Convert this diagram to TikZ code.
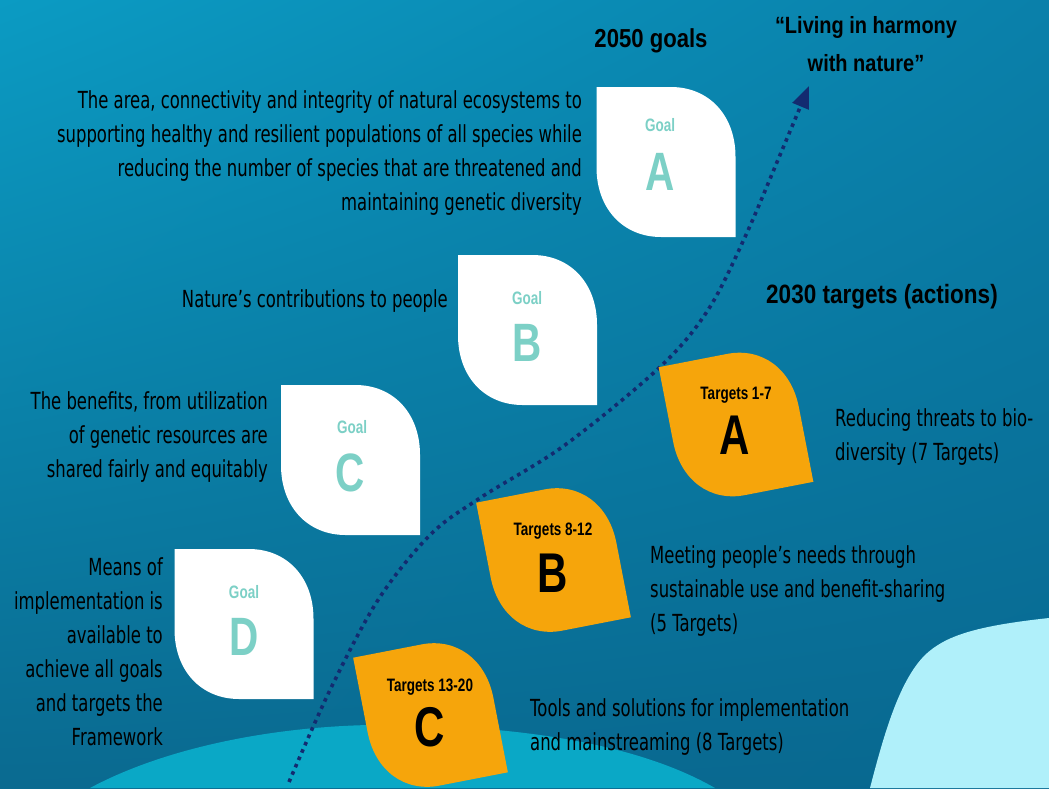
\documentclass[tikz,border=0pt]{standalone}
\usepackage{fontspec}
\setmainfont{DejaVu Sans}
\newfontfamily\descfont{DejaVu Sans}[FakeStretch=0.70]
\newfontfamily\headfont{Liberation Sans}[FakeStretch=0.85]
\newfontfamily\leaffont{Liberation Sans}[FakeStretch=0.75]
\usetikzlibrary{arrows.meta,shadings}
\definecolor{bgUL}{HTML}{0B9BC3}
\definecolor{bgUR}{HTML}{0A80AA}
\definecolor{bgLL}{HTML}{0A6A90}
\definecolor{bgLR}{HTML}{086890}
\definecolor{wavecol}{HTML}{0AA8C6}
\definecolor{blobcol}{HTML}{B0F0FA}
\definecolor{leaforange}{HTML}{F6A50B}
\definecolor{goalteal}{HTML}{7CD0C6}
\definecolor{arrowblue}{HTML}{132B70}
\tikzset{
  desc/.style={font=\descfont\fontsize{23.5}{34}\selectfont, text=black, inner sep=0pt},
  descR/.style={desc, align=right, anchor=base east},
  descL/.style={desc, align=left, anchor=base west},
  head/.style={font=\headfont\bfseries\fontsize{26}{30}\selectfont, text=black, inner sep=0pt, text depth=0pt},
  goalword/.style={font=\leaffont\bfseries\fontsize{18}{20}\selectfont, text=goalteal, inner sep=0pt, text depth=0pt},
  goalletter/.style={font=\leaffont\bfseries\fontsize{54}{60}\selectfont, text=goalteal, inner sep=0pt, text depth=0pt},
  tgtword/.style={font=\leaffont\bfseries\fontsize{18}{20}\selectfont, text=black, inner sep=0pt, text depth=0pt},
  tgtletter/.style={font=\leaffont\bfseries\fontsize{56}{60}\selectfont, text=black, inner sep=0pt, text depth=0pt},
  goalleaf/.style={fill=white},
  tgtleaf/.style={fill=leaforange},
  dottedarrow/.style={draw=arrowblue, line width=3.6pt, dash pattern=on 3.6pt off 4.4pt,
    -{Triangle[length=22pt,width=17pt]}},
}
\newcommand{\leafshape}[6]{%
  \begin{scope}[shift={(#1,#2)}, rotate=#3, xscale=#4/2, yscale=#5/2]
    \fill[#6] (-1,-1) -- (0.07,-1) .. controls (0.62,-1) and (1,-0.62) .. (1,-0.07)
      -- (1,1) -- (-0.07,1) .. controls (-0.62,1) and (-1,0.62) .. (-1,0.07) -- cycle;
  \end{scope}}
\begin{document}
\begin{tikzpicture}[x=1pt,y=-1pt]
\useasboundingbox (0,0) rectangle (1049,788);
% background
\shade[upper left=bgUL, upper right=bgUR, lower left=bgLL, lower right=bgLR] (0,0) rectangle (1049,788);
% bottom wave
\fill[wavecol] (90,788) .. controls (170,745) and (290,722) .. (410,725)
  .. controls (530,728) and (640,745) .. (715,788) -- cycle;
% bottom-right blob
\fill[blobcol] (870,788) .. controls (885,730) and (900,680) .. (925,655)
  .. controls (945,636) and (975,626) .. (1049,618) -- (1049,788) -- cycle;

% headings
\node[head] (h2050) at (651,38) {2050 goals};
\node[head, font=\headfont\bfseries\fontsize{23.5}{28}\selectfont] (liv1) at (866,25) {“Living in harmony};
\node[head, font=\headfont\bfseries\fontsize{23.5}{28}\selectfont] (liv2) at (866,63) {with nature”};
\node[head, font=\headfont\bfseries\fontsize{26.5}{30}\selectfont] (h2030) at (882,294) {2030 targets (actions)};

% dotted arrow
\coordinate (p0) at (289,782);
\coordinate (p1) at (330,690);
\coordinate (p2) at (378,600);
\coordinate (p3) at (430,535);
\coordinate (p4) at (480,498);
\coordinate (p5) at (565,445);
\coordinate (p6) at (660,367);
\coordinate (p7) at (708,310);
\coordinate (p8) at (745,237);
\coordinate (p9) at (780,155);
\coordinate (p10) at (809,86);
\draw[dottedarrow] plot[smooth, tension=0.55] coordinates {(p0) (p1) (p2) (p3) (p4) (p5) (p6) (p7) (p8) (p9) (p10)};

% goal leaves
\leafshape{666}{162}{0}{139}{150}{goalleaf}
\leafshape{527.5}{330}{0}{139}{150}{goalleaf}
\leafshape{350.5}{460}{0}{139}{150}{goalleaf}
\leafshape{244}{624}{0}{139}{150}{goalleaf}
\node[goalword] (gAw) at (660,125) {Goal};
\node[goalletter] (gAl) at (660,172) {A};
\node[goalword] (gBw) at (527,298) {Goal};
\node[goalletter] (gBl) at (527,343) {B};
\node[goalword] (gCw) at (352,427) {Goal};
\node[goalletter] (gCl) at (350,473) {C};
\node[goalword] (gDw) at (244,592) {Goal};
\node[goalletter] (gDl) at (244,637) {D};

% target leaves
\leafshape{736}{424.5}{11}{130}{142}{tgtleaf}
\leafshape{553.5}{560}{11}{130}{142}{tgtleaf}
\leafshape{430.5}{715}{11}{130}{142}{tgtleaf}
\node[tgtword] (tAw) at (736,393) {Targets 1-7};
\node[tgtletter] (tAl) at (735,435) {A};
\node[tgtword] (tBw) at (553,529) {Targets 8-12};
\node[tgtletter] (tBl) at (553,573) {B};
\node[tgtword] (tCw) at (430,685) {Targets 13-20};
\node[tgtletter] (tCl) at (430,727) {C};

% goal descriptions (anchor = baseline of last line)
\node[descR] (dA) at (582,210) {The area, connectivity and integrity of natural ecosystems to\\supporting healthy and resilient populations of all species while\\reducing the number of species that are threatened and\\maintaining genetic diversity};
\node[descR] (dB) at (448,307) {Nature’s contributions to people};
\node[descR] (dC) at (268,477) {The benefits, from utilization\\of genetic resources are\\shared fairly and equitably};
\node[descR] (dD) at (163,745) {Means of\\implementation is\\available to\\achieve all goals\\and targets the\\Framework};

% target descriptions
\node[descL] (eA) at (835,460) {Reducing threats to bio-\\diversity (7 Targets)};
\node[descL] (eB) at (650,631) {Meeting people’s needs through\\sustainable use and benefit-sharing\\(5 Targets)};
\node[descL] (eC) at (530,750) {Tools and solutions for implementation\\and mainstreaming (8 Targets)};
\end{tikzpicture}
\end{document}
